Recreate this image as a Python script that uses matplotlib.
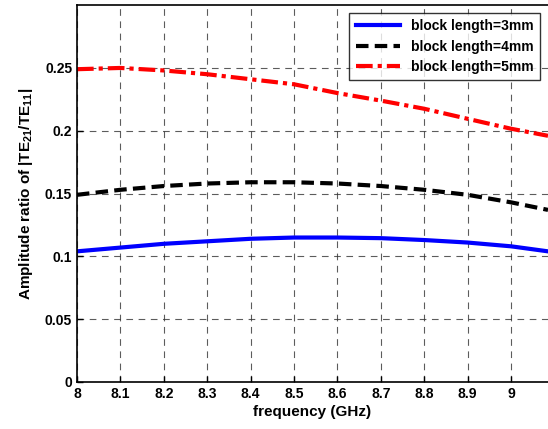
import matplotlib
matplotlib.use("Agg")
from matplotlib import pyplot as plt
import numpy as np

# data
freq = [8.0, 8.1, 8.2, 8.3, 8.4, 8.5, 8.6, 8.7, 8.8, 8.9, 9.0, 9.085]
len3 = [0.104, 0.107, 0.110, 0.112, 0.114, 0.115, 0.115, 0.1145, 0.113, 0.111, 0.108, 0.104]
len4 = [0.149, 0.153, 0.156, 0.158, 0.159, 0.159, 0.158, 0.156, 0.153, 0.149, 0.143, 0.137]
len5 = [0.249, 0.250, 0.248, 0.245, 0.241, 0.237, 0.230, 0.224, 0.2175, 0.2095, 0.2016, 0.196]
labels = ['block length=3mm', 'block length=4mm', 'block length=5mm']
xticks = [8, 8.1, 8.2, 8.3, 8.4, 8.5, 8.6, 8.7, 8.8, 8.9, 9]
xticklabels = ['8', '8.1', '8.2', '8.3', '8.4', '8.5', '8.6', '8.7', '8.8', '8.9', '9']
yticks = [0, 0.05, 0.1, 0.15, 0.2, 0.25]
yticklabels = ['0', '0.05', '0.1', '0.15', '0.2', '0.25']

plt.rcParams['font.family'] = ['Liberation Sans', 'DejaVu Sans']
plt.rcParams['font.weight'] = 'bold'
plt.rcParams['mathtext.fontset'] = 'custom'
plt.rcParams['mathtext.rm'] = 'Liberation Sans:bold'
plt.rcParams['mathtext.default'] = 'rm'

fig = plt.figure(figsize=(5.48, 4.29), dpi=100)
ax = fig.add_axes([0.1405, 0.1096, 0.8595, 0.8784])

ax.plot(freq, len3, color='#0000ff', lw=3, label=labels[0])
ax.plot(freq, len4, color='black', lw=3, ls=(0, (3, 1.5)), label=labels[1])
ax.plot(freq, len5, color='red', lw=3, ls=(0, (4, 1.2, 1, 1.2)), label=labels[2])

ax.set_xlim(8, 9.085)
ax.set_ylim(0, 0.3)
ax.set_xticks(xticks)
ax.set_xticklabels(xticklabels)
ax.set_yticks(yticks)
ax.set_yticklabels(yticklabels)
ax.tick_params(direction='in', labelsize=10, width=1, length=4, top=False, right=False)
for lab in ax.get_xticklabels() + ax.get_yticklabels():
    lab.set_fontweight('bold')
ax.grid(True, color='#333333', ls=(0, (6, 5)), lw=0.8, alpha=0.8)
ax.spines['right'].set_visible(False)
for s in ['left', 'bottom', 'top']:
    ax.spines[s].set_linewidth(1.2)

ax.set_xlabel('frequency (GHz)', fontsize=11, fontweight='bold', labelpad=3)
ax.set_ylabel(r'Amplitude ratio of $|$TE$_{21}$/TE$_{11}|$', fontsize=11, fontweight='bold', labelpad=7)

leg = ax.legend(loc='upper right', fontsize=10, frameon=True, fancybox=False,
                edgecolor='black', handlelength=3.2, borderpad=0.45, labelspacing=0.45,
                borderaxespad=0, bbox_to_anchor=(0.983, 0.979))
leg.get_frame().set_linewidth(1.0)
for t in leg.get_texts():
    t.set_fontweight('bold')

fig.savefig('out.png', dpi=100)
